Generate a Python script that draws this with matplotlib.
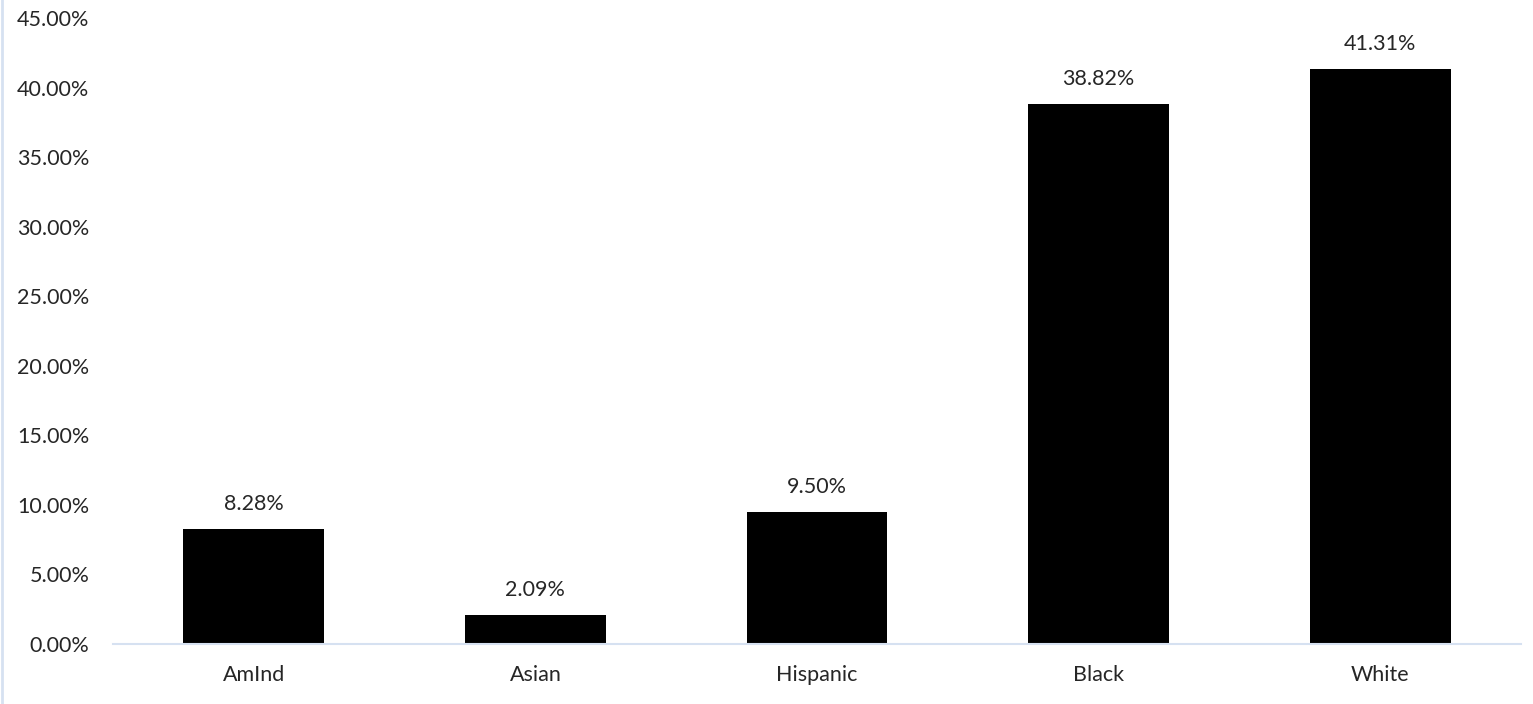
import matplotlib
matplotlib.use("Agg")
import matplotlib.pyplot as plt
from matplotlib.lines import Line2D
from matplotlib.ticker import PercentFormatter

categories = ["AmInd", "Asian", "Hispanic", "Black", "White"]
values = [8.28, 2.09, 9.50, 38.82, 41.31]
y_ticks = [0, 5, 10, 15, 20, 25, 30, 35, 40, 45]

plt.rcParams['font.family'] = ['Lato', 'DejaVu Sans']
edge_blue = '#d6e1f1'

fig = plt.figure(figsize=(15.33, 7.04), dpi=100)
ax = fig.add_axes([0.0737, 0.0852, 0.9185, 0.889])

x = range(len(categories))
bars = ax.bar(x, values, width=0.5, color='black')

for b, v in zip(bars, values):
    ax.annotate(f'{v:.2f}%', (b.get_x() + b.get_width() / 2, v),
                xytext=(0, 11), textcoords='offset points',
                ha='center', va='bottom', fontsize=15.5, color='#262626')

ax.set_xlim(-0.5, len(categories) - 0.5)
ax.set_ylim(0, 45)
ax.set_yticks(y_ticks)
ax.yaxis.set_major_formatter(PercentFormatter(decimals=2))
ax.set_xticks(list(x))
ax.set_xticklabels(categories)
ax.tick_params(axis='both', length=0, labelsize=15.5, labelcolor='#262626')
ax.tick_params(axis='y', pad=17)
ax.tick_params(axis='x', pad=15)

for s in ['top', 'right', 'left']:
    ax.spines[s].set_visible(False)
ax.spines['bottom'].set_color(edge_blue)
ax.spines['bottom'].set_linewidth(1.5)

# thin light border at the left edge of the figure
fig.add_artist(Line2D([0.0015, 0.0015], [0, 1], transform=fig.transFigure,
                      color=edge_blue, linewidth=2))

fig.savefig('out.png', dpi=100)
plt.close(fig)
